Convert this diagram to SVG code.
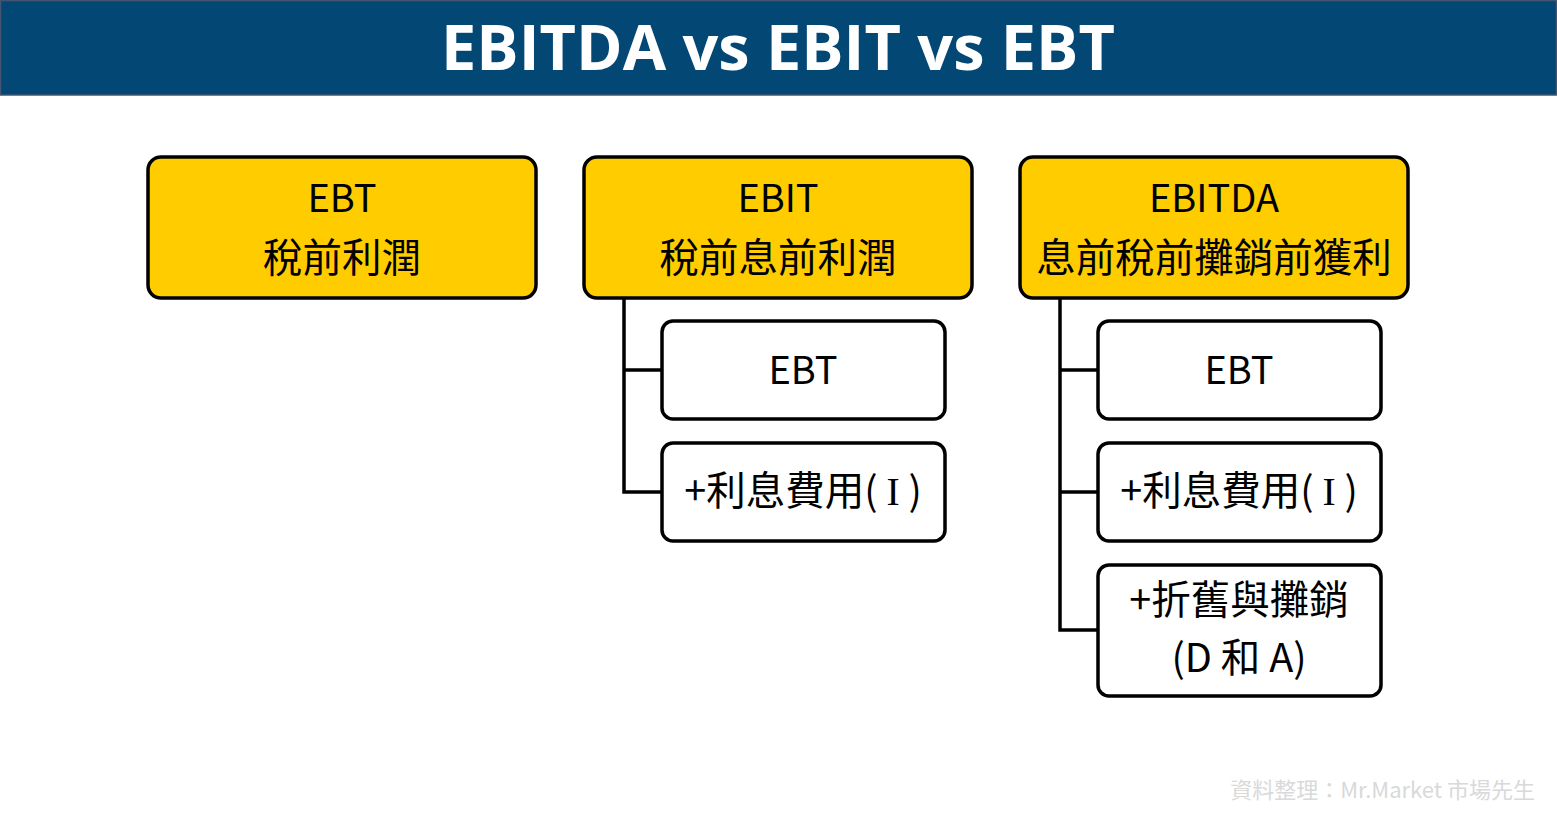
<svg xmlns="http://www.w3.org/2000/svg" width="1557" height="815" viewBox="0 0 1557 815">
<style>
.top{fill:#FFCC00;stroke:#000;stroke-width:3.5}
.sub{fill:#fff;stroke:#000;stroke-width:3.5}
.t{font-family:"Noto Sans CJK TC","Noto Sans",sans-serif;fill:#000;text-anchor:middle}
.en{font-size:38px}
.zh{font-size:39.5px}
.rs{font-family:"Liberation Serif",serif}
.conn{fill:none;stroke:#000;stroke-width:3.5}
</style>
<rect x="0" y="0" width="1557" height="815" fill="#fff"/>
<g id="header">
<rect x="0.5" y="0.5" width="1556" height="94.5" fill="#034875" stroke="#44556f" stroke-width="1.5"/>
<text x="778" y="70" font-family="'Open Sans','Noto Sans',sans-serif" font-weight="bold" font-size="63" fill="#fff" text-anchor="middle">EBITDA vs EBIT vs EBT</text>
</g>
<g id="connectors">
<path class="conn" d="M624 298 V492 H662 M624 370 H662"/>
<path class="conn" d="M1060 298 V630 H1098 M1060 370 H1098 M1060 492 H1098"/>
</g>
<g id="ebt">
<rect class="top" x="148" y="157" width="388" height="141" rx="13"/>
<text class="t en" x="342" y="212">EBT</text>
<text class="t zh" x="342" y="272">稅前利潤</text>
</g>
<g id="ebit">
<rect class="top" x="584" y="157" width="388" height="141" rx="13"/>
<text class="t en" x="778" y="212">EBIT</text>
<text class="t zh" x="778" y="272">稅前息前利潤</text>
</g>
<g id="ebitda">
<rect class="top" x="1020" y="157" width="388" height="141" rx="13"/>
<text class="t en" x="1214" y="212">EBITDA</text>
<text class="t zh" x="1214" y="272">息前稅前攤銷前獲利</text>
</g>
<g id="ebit-ebt">
<rect class="sub" x="662" y="321" width="283" height="98" rx="11"/>
<text class="t en" x="803" y="384">EBT</text>
</g>
<g id="ebit-int">
<rect class="sub" x="662" y="443" width="283" height="98" rx="11"/>
<text class="t zh" x="803" y="505">+利息費用( <tspan class="rs">I</tspan> )</text>
</g>
<g id="ebitda-ebt">
<rect class="sub" x="1098" y="321" width="283" height="98" rx="11"/>
<text class="t en" x="1239" y="384">EBT</text>
</g>
<g id="ebitda-int">
<rect class="sub" x="1098" y="443" width="283" height="98" rx="11"/>
<text class="t zh" x="1239" y="505">+利息費用( <tspan class="rs">I</tspan> )</text>
</g>
<g id="ebitda-da">
<rect class="sub" x="1098" y="565" width="283" height="131" rx="11"/>
<text class="t zh" x="1239" y="614">+折舊與攤銷</text>
<text class="t zh" x="1239" y="672">(D 和 A)</text>
</g>
<text x="1535" y="798" font-family="'Noto Sans CJK TC','Noto Sans',sans-serif" font-size="22" fill="#d9d9d9" text-anchor="end">資料整理：Mr.Market 市場先生</text>
</svg>
